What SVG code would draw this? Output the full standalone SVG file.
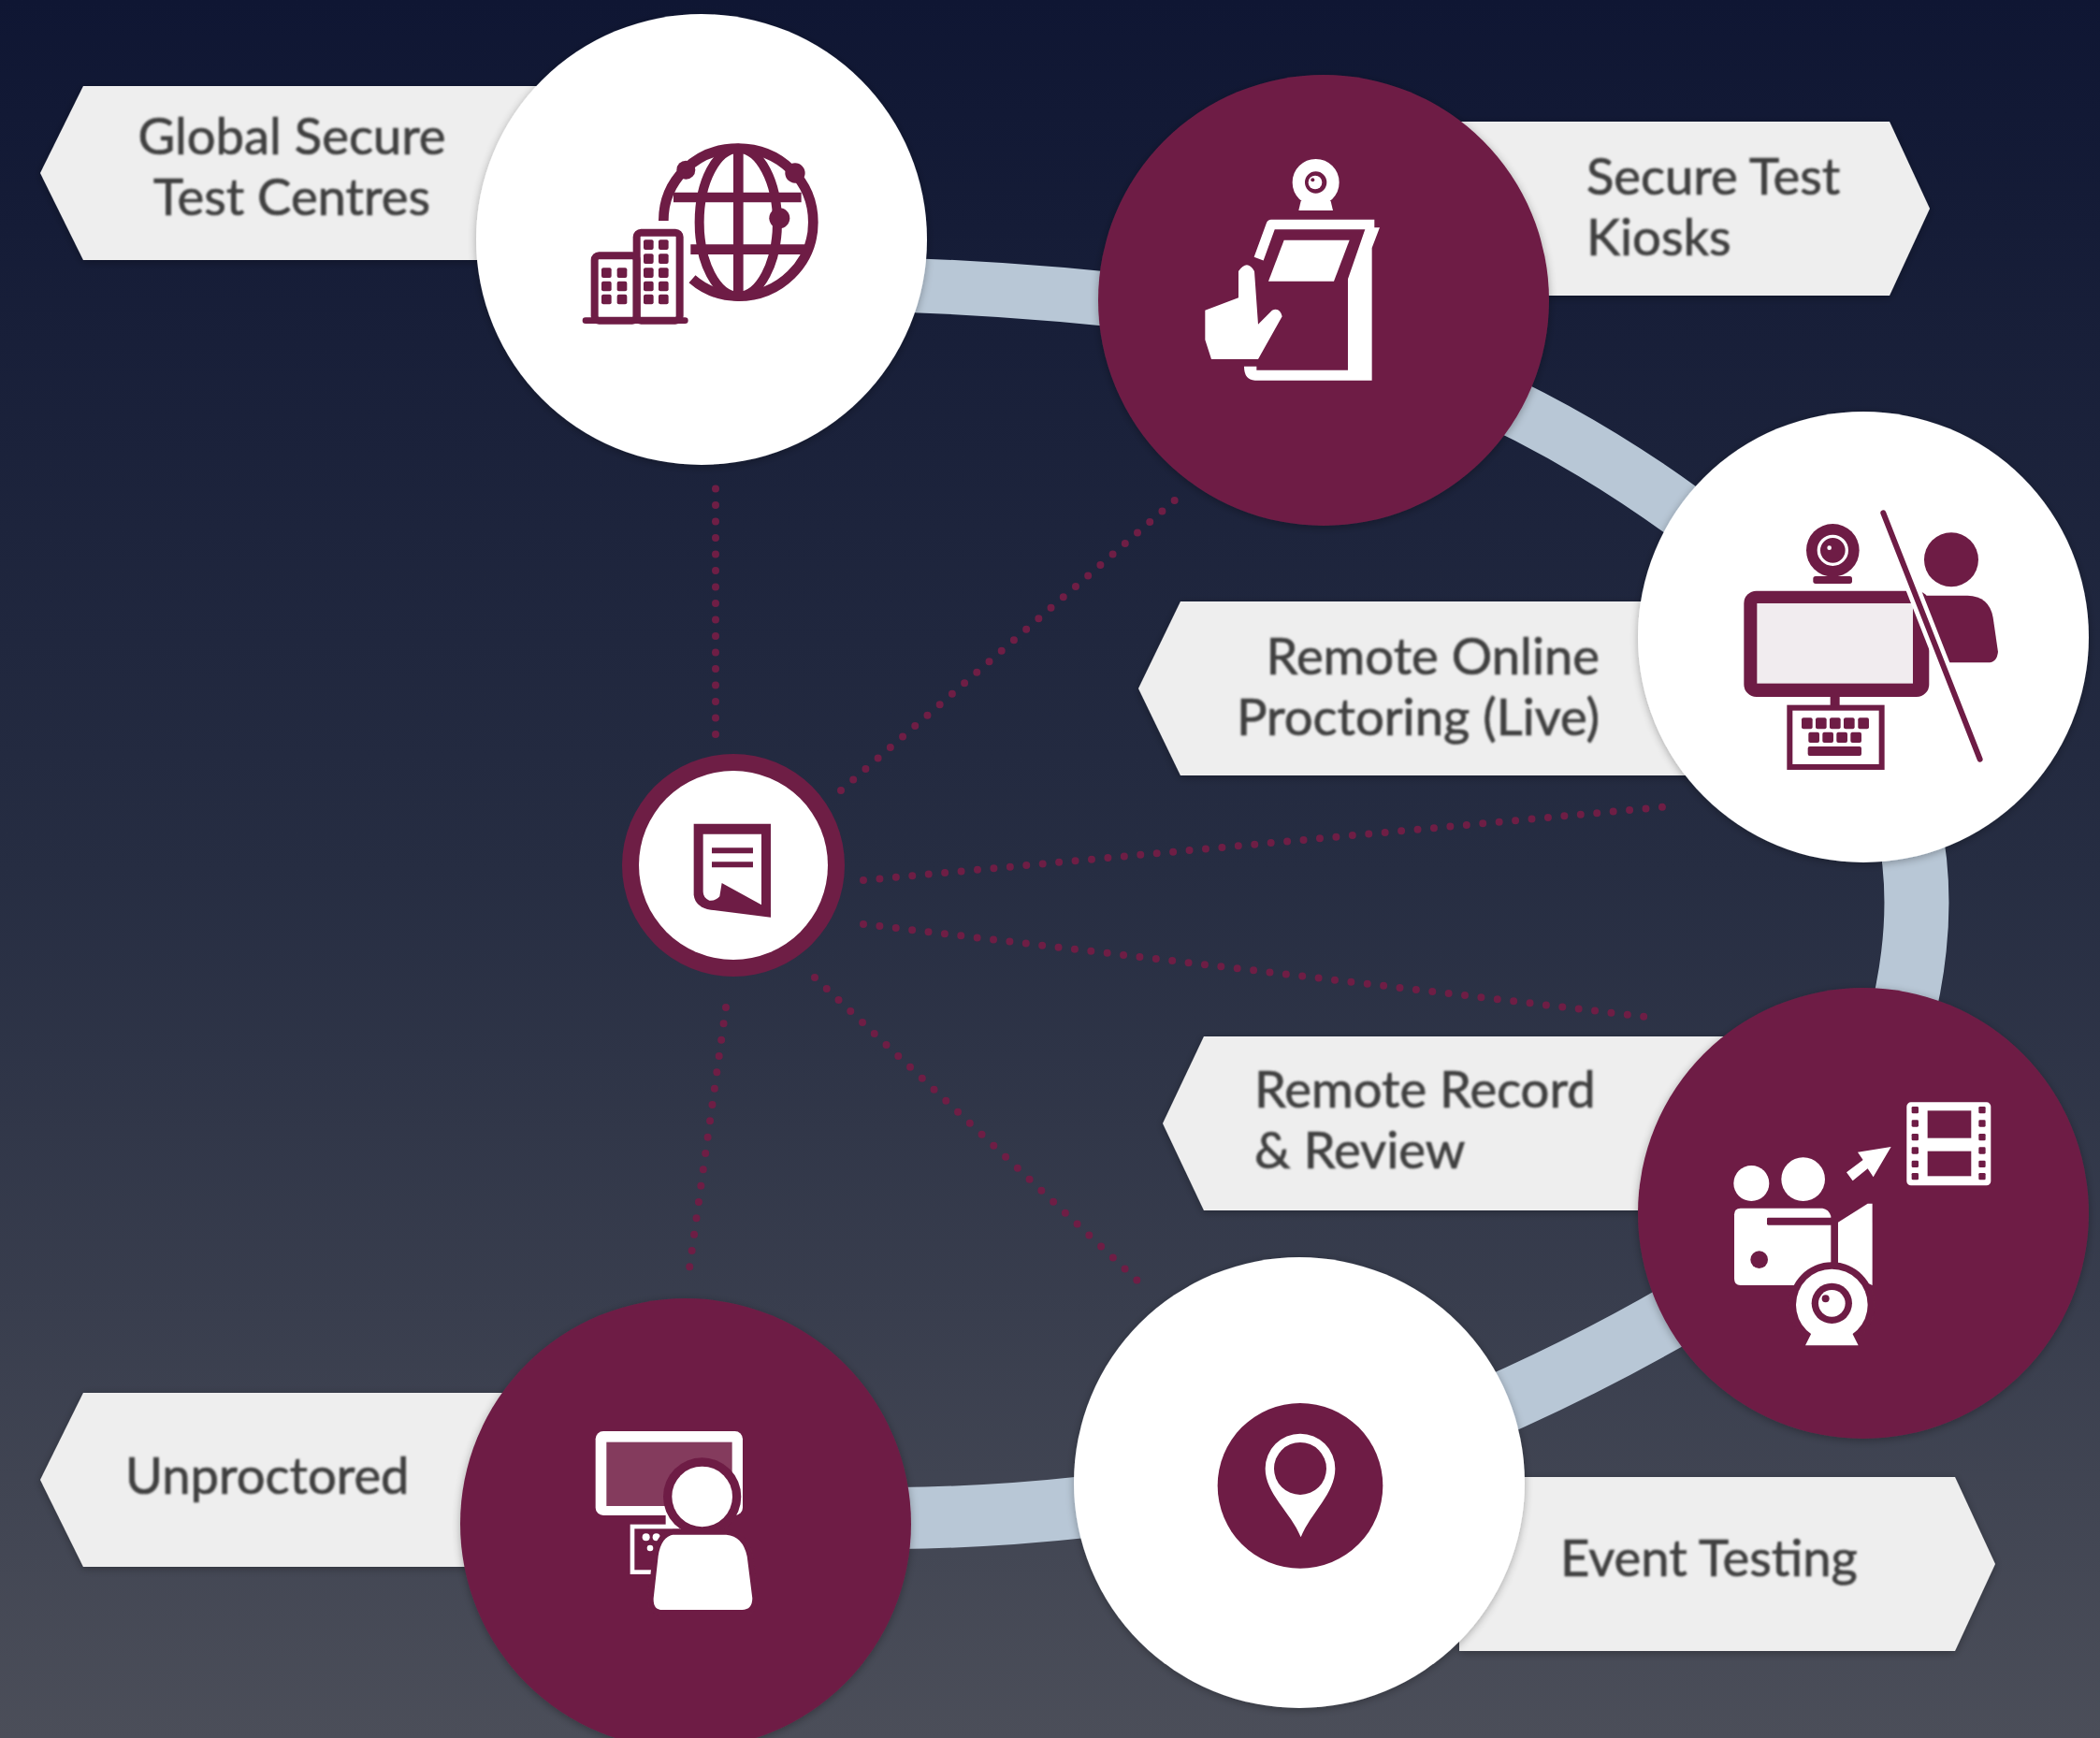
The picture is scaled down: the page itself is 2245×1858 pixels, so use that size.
<svg xmlns="http://www.w3.org/2000/svg" width="2245" height="1858" viewBox="0 0 2245 1858">
<style>
.lab{fill:#eeeeee;filter:url(#sh)}
.t{font-family:"Lato","Liberation Sans",sans-serif;font-size:54.4px;font-weight:400;fill:#404040;stroke:#404040;stroke-width:.7px;filter:url(#soft)}
.band{fill:none;stroke:#b8c7d6}
.dots{fill:none;stroke:#6e1e45;stroke-width:8;stroke-linecap:round;stroke-dasharray:0 17.5}
.cw{fill:#ffffff;filter:url(#sh)}
.cm{fill:#6e1e45;filter:url(#sh)}
.ic{filter:url(#soft)}
.m{fill:#6e1e45}
.w{fill:#ffffff}
.ms{fill:none;stroke:#6e1e45}
.ws{fill:none;stroke:#ffffff}
</style>
<defs>
<linearGradient id="bg" x1="0" y1="0" x2="0" y2="1">
<stop offset="0" stop-color="#0f1633"/>
<stop offset=".5" stop-color="#262d42"/>
<stop offset="1" stop-color="#4b4e59"/>
</linearGradient>
<filter id="soft" x="-5%" y="-5%" width="110%" height="110%"><feGaussianBlur stdDeviation="0.9"/></filter>
<filter id="sh" x="-10%" y="-10%" width="120%" height="120%"><feGaussianBlur in="SourceAlpha" stdDeviation="5"/><feOffset dy="2"/><feComponentTransfer><feFuncA type="linear" slope=".3"/></feComponentTransfer><feMerge><feMergeNode/><feMergeNode in="SourceGraphic"/></feMerge></filter>
</defs>
<rect width="2245" height="1858" fill="url(#bg)"/>
<g id="connectors">
<path class="band" stroke-width="58" d="M900,303 Q1080,306 1250,327"/>
<path class="band" stroke-width="60" d="M1560,410 Q1700,470 1830,570"/>
<path class="band" stroke-width="69" d="M2040,880 Q2062,980 2030,1100"/>
<path class="band" stroke-width="66" d="M1850,1370 Q1720,1452 1560,1520"/>
<path class="band" stroke-width="66" d="M1160,1611 Q1060,1622 960,1623"/>
<path class="dots" d="M765,785L765,520"/>
<path class="dots" d="M899,845L1258,533"/>
<path class="dots" d="M923,941L1778,862.7"/>
<path class="dots" d="M923,988L1772,1088.5"/>
<path class="dots" d="M871,1045L1218,1371"/>
<path class="dots" d="M776,1077L737,1356"/>
</g>
<g id="node-global">
<polygon class="lab" points="43,185 89,92 620,92 620,278 89,278"/>
<text class="t" x="312" y="165" text-anchor="middle">Global Secure</text>
<text class="t" x="312" y="230" text-anchor="middle">Test Centres</text>
<circle class="cw" cx="750" cy="256" r="241"/>
<g class="ic" transform="translate(560,100) scale(.3333)">
<path class="ms" stroke-width="32" d="M448,408C448,280 550,176 688,176C820,176 928,280 928,413C928,545 820,650 688,650C630,650 580,630 540,595"/>
<ellipse class="ms" stroke-width="30" cx="688" cy="413" rx="125" ry="237"/>
<path class="ms" stroke-width="32" d="M688,176V650M480,333H890M535,500H905"/>
<circle class="m" cx="520" cy="245" r="30"/><circle class="m" cx="870" cy="255" r="32"/><circle class="m" cx="820" cy="400" r="33"/>
<rect class="ms" stroke-width="24" x="227" y="520" width="135" height="208" rx="14"/>
<rect class="ms" stroke-width="24" x="362" y="446" width="138" height="282" rx="14"/>
<path class="ms" stroke-width="20" stroke-linecap="round" d="M198,728H517"/>
<g class="m">
<rect x="249" y="559" width="32" height="32" rx="6"/><rect x="299" y="559" width="32" height="32" rx="6"/>
<rect x="249" y="602" width="32" height="32" rx="6"/><rect x="299" y="602" width="32" height="32" rx="6"/>
<rect x="249" y="644" width="32" height="32" rx="6"/><rect x="299" y="644" width="32" height="32" rx="6"/>
<rect x="384" y="469" width="32" height="32" rx="6"/><rect x="432" y="469" width="32" height="32" rx="6"/>
<rect x="384" y="514" width="32" height="32" rx="6"/><rect x="432" y="514" width="32" height="32" rx="6"/>
<rect x="384" y="559" width="32" height="32" rx="6"/><rect x="432" y="559" width="32" height="32" rx="6"/>
<rect x="384" y="602" width="32" height="32" rx="6"/><rect x="432" y="602" width="32" height="32" rx="6"/>
<rect x="384" y="644" width="32" height="32" rx="6"/><rect x="432" y="644" width="32" height="32" rx="6"/>
</g>
</g>
</g>
<g id="node-kiosk">
<polygon class="lab" points="1520,130 2020,130 2063,223 2020,316 1520,316"/>
<text class="t" x="1696" y="208">Secure Test</text>
<text class="t" x="1696" y="273">Kiosks</text>
<circle class="cm" cx="1415" cy="321" r="241"/>
<g class="ic" transform="translate(1240,130) scale(.3333)">
<circle class="ws" stroke-width="40" cx="500" cy="195" r="55"/>
<circle class="w" cx="498" cy="195" r="22"/>
<circle class="m" cx="490" cy="187" r="6"/>
<polygon class="w" points="445,285 452,255 548,255 555,285"/>
<path class="ws" stroke-width="32" stroke-linejoin="round" d="M317,440L357,330H688"/>
<path class="w" d="M660,340L705,340L680,405V830H305Q270,828 270,785H310V797H603V505Z"/>
<polygon class="w" points="398,380 608,380 558,512 348,512"/>
<path class="w" d="M252,480Q280,440 303,480L315,650L360,605Q385,595 392,625L315,762H165L145,700V605L252,565Z"/>
</g>
</g>
<g id="node-live">
<polygon class="lab" points="1217,736 1262,643 1850,643 1850,829 1262,829"/>
<text class="t" x="1710" y="721" text-anchor="end">Remote Online</text>
<text class="t" x="1710" y="786" text-anchor="end">Proctoring (Live)</text>
<circle class="cw" cx="1992" cy="681" r="241"/>
<g class="ic" transform="translate(1830,520) scale(.3333)">
<circle class="m" cx="388" cy="205" r="85"/>
<circle class="ws" stroke-width="10" cx="388" cy="205" r="45"/>
<circle class="m" cx="385" cy="205" r="27"/>
<circle class="w" cx="377" cy="197" r="7"/>
<rect class="m" x="325" y="288" width="125" height="24" rx="8"/>
<rect class="m" x="103" y="335" width="594" height="340" rx="40"/>
<rect x="145" y="375" width="500" height="257" fill="#f1ecef"/>
<circle class="m" cx="768" cy="235" r="87"/>
<path class="m" d="M640,350H820Q890,352 902,420L918,530Q915,565 885,565H720Z"/>
<path d="M550,85L860,875" stroke="#fff" stroke-width="46" fill="none"/>
<path class="ms" stroke-width="18" stroke-linecap="round" d="M550,85L860,875"/>
<rect class="m" x="380" y="670" width="30" height="40"/>
<rect x="250" y="710" width="295" height="190" fill="#fff" stroke="#6e1e45" stroke-width="18"/>
<g class="m">
<rect x="288" y="742" width="35" height="36" rx="6"/><rect x="333" y="742" width="35" height="36" rx="6"/><rect x="378" y="742" width="35" height="36" rx="6"/><rect x="423" y="742" width="35" height="36" rx="6"/><rect x="469" y="742" width="35" height="36" rx="6"/>
<rect x="310" y="788" width="35" height="34" rx="6"/><rect x="355" y="788" width="35" height="34" rx="6"/><rect x="400" y="788" width="35" height="34" rx="6"/><rect x="445" y="788" width="35" height="34" rx="6"/>
<rect x="308" y="834" width="172" height="30" rx="6"/>
</g>
</g>
</g>
<g id="node-record">
<polygon class="lab" points="1243,1201 1287,1108 1880,1108 1880,1294 1287,1294"/>
<text class="t" x="1341" y="1184">Remote Record</text>
<text class="t" x="1341" y="1249">&amp; Review</text>
<circle class="cm" cx="1992" cy="1297" r="241"/>
<g class="ic" transform="translate(1820,1150) scale(.3333)">
<rect class="w" x="655" y="85" width="270" height="267" rx="14"/>
<g class="m">
<rect x="722" y="112" width="140" height="88"/><rect x="722" y="242" width="140" height="80"/>
<rect x="671" y="99" width="22" height="22" rx="4"/><rect x="671" y="142" width="22" height="22" rx="4"/><rect x="671" y="186" width="22" height="22" rx="4"/><rect x="671" y="229" width="22" height="22" rx="4"/><rect x="671" y="272" width="22" height="22" rx="4"/><rect x="671" y="312" width="22" height="22" rx="4"/>
<rect x="886" y="99" width="22" height="22" rx="4"/><rect x="886" y="142" width="22" height="22" rx="4"/><rect x="886" y="186" width="22" height="22" rx="4"/><rect x="886" y="229" width="22" height="22" rx="4"/><rect x="886" y="272" width="22" height="22" rx="4"/><rect x="886" y="312" width="22" height="22" rx="4"/>
</g>
<polygon class="w" points="605,228 498,245 515,270 462,310 482,337 530,298 548,325"/>
<circle class="w" cx="157" cy="345" r="57"/><circle class="w" cx="323" cy="332" r="70"/>
<path class="w" d="M122,425H385Q405,428 412,450V672H122Q102,672 102,650V445Q102,425 122,425Z"/>
<rect class="m" x="207" y="455" width="210" height="24" rx="4"/>
<circle class="m" cx="182" cy="590" r="28"/>
<polygon class="w" points="435,470 530,410 545,410 545,672 435,620"/>
<circle class="m" cx="415" cy="735" r="137"/>
<circle class="w" cx="415" cy="735" r="115"/>
<circle class="m" cx="415" cy="730" r="65"/>
<circle class="w" cx="415" cy="730" r="43"/>
<circle class="m" cx="395" cy="715" r="12"/>
<polygon class="w" points="330,865 350,825 480,825 500,865"/>
</g>
</g>
<g id="node-event">
<polygon class="lab" points="1560,1579 2090,1579 2133,1672 2090,1765 1560,1765"/>
<text class="t" x="1668" y="1685">Event Testing</text>
<circle class="cw" cx="1389" cy="1585" r="241"/>
<g class="ic" transform="translate(1280,1480) scale(.3333)">
<circle class="m" cx="330" cy="325" r="265"/>
<path class="w" d="M332,490C300,410 218,350 218,270A112,112 0 1 1 442,270C442,350 365,410 332,490Z"/>
<circle class="m" cx="330" cy="270" r="84"/>
</g>
</g>
<g id="node-unproctored">
<polygon class="lab" points="43,1582 89,1489 580,1489 580,1675 89,1675"/>
<text class="t" x="134" y="1597">Unproctored</text>
<circle class="cm" cx="733" cy="1629" r="241"/>
<g class="ic" transform="translate(600,1500) scale(.3333)">
<rect class="w" x="110" y="90" width="472" height="270" rx="25"/>
<rect x="145" y="125" width="403" height="205" fill="#843a5d"/>
<rect class="w" x="335" y="355" width="30" height="40"/>
<rect x="228" y="396" width="160" height="146" fill="none" stroke="#fff" stroke-width="14"/>
<circle class="w" cx="272" cy="430" r="12"/><circle class="w" cx="305" cy="430" r="12"/><circle class="w" cx="285" cy="465" r="10"/>
<circle class="m" cx="452" cy="300" r="125"/>
<circle class="w" cx="452" cy="300" r="97"/>
<path class="w" stroke="#6e1e45" stroke-width="18" d="M360,413H530Q590,418 605,490L622,625Q622,672 580,672H325Q285,672 287,625L302,490Q312,420 360,413Z"/>
</g>
</g>
<g id="node-center">
<circle class="m" cx="784" cy="925" r="119"/>
<circle class="w" cx="784" cy="925" r="101"/>
<g class="ic" transform="translate(650,790) scale(.3333)">
<path class="m" d="M275,272H522V572L330,548Q280,540 275,500Z"/>
<path class="w" d="M305,305H492V532L365,462L358,505Q345,520 325,518Q305,510 305,490Z"/>
<path class="ms" stroke-width="18" d="M333,358H465M333,403H465"/>
</g>
</g>
</svg>
